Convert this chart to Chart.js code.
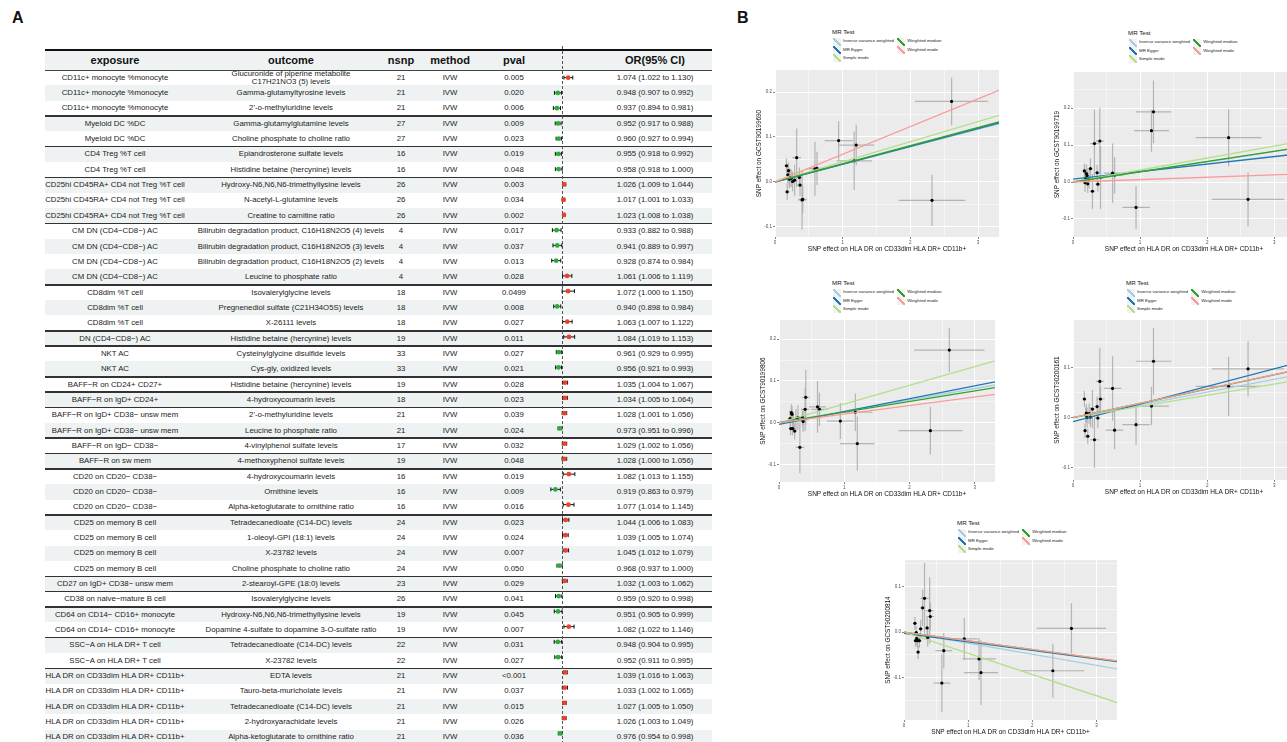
<!DOCTYPE html>
<html><head><meta charset="utf-8">
<script src="https://cdn.jsdelivr.net/npm/chart.js"></script>
<style>
html,body{margin:0;padding:0;}
body{width:1287px;height:742px;overflow:hidden;position:relative;background:#fff;font-family:"Liberation Sans",Arial,Helvetica,sans-serif;color:#222;}
.a{position:absolute;}
.cell{position:absolute;display:flex;align-items:center;justify-content:center;text-align:center;white-space:nowrap;font-size:7.8px;line-height:1;color:#222;}
.hd{font-weight:bold;font-size:11px;color:#111;}
canvas{position:absolute;}
.lt{position:absolute;font-size:6.2px;color:#111;white-space:nowrap;line-height:1;}
.li{position:absolute;font-size:4.4px;color:#222;white-space:nowrap;line-height:1;}
.key{position:absolute;width:8px;height:8px;}
.plab{position:absolute;font-weight:bold;font-size:16px;color:#111;line-height:1;}
</style></head><body>
<div class="plab" style="left:12px;top:10px;">A</div>
<div class="plab" style="left:737px;top:10px;">B</div>
<script>
// ---------------- Panel A data ----------------
const exposure = [
 "CD11c+ monocyte %monocyte","CD11c+ monocyte %monocyte","CD11c+ monocyte %monocyte",
 "Myeloid DC %DC","Myeloid DC %DC",
 "CD4 Treg %T cell","CD4 Treg %T cell",
 "CD25hi CD45RA+ CD4 not Treg %T cell","CD25hi CD45RA+ CD4 not Treg %T cell","CD25hi CD45RA+ CD4 not Treg %T cell",
 "CM DN (CD4−CD8−) AC","CM DN (CD4−CD8−) AC","CM DN (CD4−CD8−) AC","CM DN (CD4−CD8−) AC",
 "CD8dim %T cell","CD8dim %T cell","CD8dim %T cell",
 "DN (CD4−CD8−) AC",
 "NKT AC","NKT AC",
 "BAFF−R on CD24+ CD27+",
 "BAFF−R on IgD+ CD24+",
 "BAFF−R on IgD+ CD38− unsw mem","BAFF−R on IgD+ CD38− unsw mem",
 "BAFF−R on IgD− CD38−",
 "BAFF−R on sw mem",
 "CD20 on CD20− CD38−","CD20 on CD20− CD38−","CD20 on CD20− CD38−",
 "CD25 on memory B cell","CD25 on memory B cell","CD25 on memory B cell","CD25 on memory B cell",
 "CD27 on IgD+ CD38− unsw mem",
 "CD38 on naive−mature B cell",
 "CD64 on CD14− CD16+ monocyte","CD64 on CD14− CD16+ monocyte",
 "SSC−A on HLA DR+ T cell","SSC−A on HLA DR+ T cell",
 "HLA DR on CD33dim HLA DR+ CD11b+","HLA DR on CD33dim HLA DR+ CD11b+","HLA DR on CD33dim HLA DR+ CD11b+","HLA DR on CD33dim HLA DR+ CD11b+","HLA DR on CD33dim HLA DR+ CD11b+"
];
const outcome = [
 "Glucuronide of piperine metabolite\nC17H21NO3 (5) levels","Gamma-glutamyltyrosine levels","2'-o-methyluridine levels",
 "Gamma-glutamylglutamine levels","Choline phosphate to choline ratio",
 "Epiandrosterone sulfate levels","Histidine betaine (hercynine) levels",
 "Hydroxy-N6,N6,N6-trimethyllysine levels","N-acetyl-L-glutamine levels","Creatine to carnitine ratio",
 "Bilirubin degradation product, C16H18N2O5 (4) levels","Bilirubin degradation product, C16H18N2O5 (3) levels","Bilirubin degradation product, C16H18N2O5 (2) levels","Leucine to phosphate ratio",
 "Isovalerylglycine levels","Pregnenediol sulfate (C21H34O5S) levels","X-26111 levels",
 "Histidine betaine (hercynine) levels",
 "Cysteinylglycine disulfide levels","Cys-gly, oxidized levels",
 "Histidine betaine (hercynine) levels",
 "4-hydroxycoumarin levels",
 "2'-o-methyluridine levels","Leucine to phosphate ratio",
 "4-vinylphenol sulfate levels",
 "4-methoxyphenol sulfate levels",
 "4-hydroxycoumarin levels","Ornithine levels","Alpha-ketoglutarate to ornithine ratio",
 "Tetradecanedioate (C14-DC) levels","1-oleoyl-GPI (18:1) levels","X-23782 levels","Choline phosphate to choline ratio",
 "2-stearoyl-GPE (18:0) levels",
 "Isovalerylglycine levels",
 "Hydroxy-N6,N6,N6-trimethyllysine levels","Dopamine 4-sulfate to dopamine 3-O-sulfate ratio",
 "Tetradecanedioate (C14-DC) levels","X-23782 levels",
 "EDTA levels","Tauro-beta-muricholate levels","Tetradecanedioate (C14-DC) levels","2-hydroxyarachidate levels","Alpha-ketoglutarate to ornithine ratio"
];
const nsnp = [21,21,21,27,27,16,16,26,26,26,4,4,4,4,18,18,18,19,33,33,19,18,21,21,17,19,16,16,16,24,24,24,24,23,26,19,19,22,22,21,21,21,21,21];
const methodName = "IVW";
const pval = ["0.005","0.020","0.006","0.009","0.023","0.019","0.048","0.003","0.034","0.002","0.017","0.037","0.013","0.028","0.0499","0.008","0.027","0.011","0.027","0.021","0.028","0.023","0.039","0.024","0.032","0.048","0.019","0.009","0.016","0.023","0.024","0.007","0.050","0.029","0.041","0.045","0.007","0.031","0.027","<0.001","0.037","0.015","0.026","0.036"];
const orVal = [1.074,0.948,0.937,0.952,0.960,0.955,0.958,1.026,1.017,1.023,0.933,0.941,0.928,1.061,1.072,0.940,1.063,1.084,0.961,0.956,1.035,1.034,1.028,0.973,1.029,1.028,1.082,0.919,1.077,1.044,1.039,1.045,0.968,1.032,0.959,0.951,1.082,0.948,0.952,1.039,1.033,1.027,1.026,0.976];
const orLo  = [1.022,0.907,0.894,0.917,0.927,0.918,0.918,1.009,1.001,1.008,0.882,0.889,0.874,1.006,1.000,0.898,1.007,1.019,0.929,0.921,1.004,1.005,1.001,0.951,1.002,1.000,1.013,0.863,1.014,1.006,1.005,1.012,0.937,1.003,0.920,0.905,1.022,0.904,0.911,1.016,1.002,1.005,1.003,0.954];
const orHi  = [1.130,0.992,0.981,0.988,0.994,0.992,1.000,1.044,1.033,1.038,0.988,0.997,0.984,1.119,1.150,0.984,1.122,1.153,0.995,0.993,1.067,1.064,1.056,0.996,1.056,1.056,1.155,0.979,1.145,1.083,1.074,1.079,1.000,1.062,0.998,0.999,1.146,0.995,0.995,1.063,1.065,1.050,1.049,0.998];
const headerLabels = ["exposure","outcome","nsnp","method","pval","OR(95% CI)"];

// ---------------- Panel B data ----------------
const mrMethods = ["Inverse variance weighted","MR Egger","Simple mode","Weighted median","Weighted mode"];
const exposureLabel = "SNP effect on HLA DR on CD33dim HLA DR+ CD11b+";
const outcomeIds = ["GCST90199690","GCST90199719","GCST90199806","GCST90200161","GCST90200814"];
const snpBetaX = [0.17,0.18,0.19,0.20,0.21,0.22,0.24,0.26,0.29,0.32,0.36,0.37,0.40,0.41,0.59,0.62,0.94,1.17,1.20,2.32,2.61];
const snpSeX   = [0.03,0.03,0.03,0.03,0.03,0.03,0.035,0.035,0.04,0.065,0.04,0.04,0.06,0.06,0.13,0.13,0.205,0.26,0.265,0.49,0.54];
const betaY1 = [0.036,-0.022,0.016,0.025,0.006,0.010,0.008,0.001,0.004,0.054,0.010,-0.007,-0.040,-0.039,0.029,0.030,0.092,0.047,0.082,-0.041,0.179];
const seY1   = [0.016,0.018,0.02,0.018,0.02,0.02,0.02,0.022,0.035,0.065,0.022,0.025,0.066,0.03,0.06,0.037,0.043,0.065,0.045,0.057,0.053];
const betaY2 = [0.030,-0.002,0.010,0.023,0.017,-0.005,0.008,0.036,-0.025,0.104,0.025,-0.006,0.111,0.012,0.024,0.018,-0.069,0.139,0.190,0.120,-0.047];
const seY2   = [0.02,0.025,0.02,0.025,0.02,0.025,0.025,0.028,0.048,0.092,0.022,0.02,0.09,0.085,0.08,0.05,0.058,0.057,0.085,0.077,0.073];
const betaY3 = [0.010,-0.014,0.024,0.020,-0.014,0.005,-0.020,0.008,0.012,-0.059,0.013,0.003,0.032,0.061,0.038,0.032,0.004,0.025,-0.050,-0.019,0.174];
const seY3   = [0.02,0.016,0.02,0.02,0.016,0.02,0.02,0.025,0.03,0.062,0.02,0.025,0.052,0.066,0.062,0.04,0.043,0.045,0.065,0.057,0.053];
const betaY4 = [0.037,-0.026,0.005,0.009,0.000,-0.037,0.008,0.001,0.017,-0.044,0.022,-0.001,0.072,0.037,0.058,-0.025,-0.014,0.023,0.112,0.062,0.097];
const seY4   = [0.016,0.015,0.015,0.018,0.02,0.015,0.02,0.02,0.038,0.056,0.02,0.02,0.067,0.025,0.064,0.038,0.04,0.038,0.066,0.059,0.055];
const betaY5 = [0.019,-0.019,-0.001,-0.014,-0.019,-0.044,-0.019,0.007,0.053,0.074,0.009,-0.012,0.047,0.034,-0.112,-0.041,-0.015,-0.059,-0.089,-0.085,0.008];
const seY5   = [0.014,0.014,0.014,0.015,0.015,0.015,0.015,0.02,0.04,0.078,0.025,0.02,0.073,0.03,0.063,0.039,0.046,0.046,0.071,0.059,0.055];
const slope1 = [0.039,0.0398,0.0448,0.0403,0.0616];   const icpt1 = [0,-0.0006,0,0,0];
const slope2 = [0.0275,0.0203,0.0325,0.0277,0.0065];  const icpt2 = [0,0.008,0,0,0];
const slope3 = [0.0273,0.0308,0.0447,0.0254,0.0205];  const icpt3 = [0,-0.004,0,0,0];
const slope4 = [0.0254,0.035,0.0222,0.0284,0.0285];   const icpt4 = [0,-0.008,0,0,0];
const slope5 = [-0.0244,-0.0187,-0.0466,-0.0192,-0.0191]; const icpt5 = [0,-0.003,0,0,0];

// ---------------- styles / layout ----------------
const methodColors = ["#a6cee3","#1f78b4","#b2df8a","#33a02c","#fb9a99"];
const FONT = "'Liberation Sans', Arial, Helvetica, sans-serif";
Chart.defaults.font.family = FONT;
const body = document.body;
function el(tag, cls, style, html){const d=document.createElement(tag); if(cls) d.className=cls; if(style) d.style.cssText=style; if(html!==undefined) d.innerHTML=html; body.appendChild(d); return d;}

// ---------- Table ----------
const TL=45, TR=712, T0=70, RH=675/44;
const colCenters=[115,291,401,450,514,655];
el('div','a',`left:${TL}px;top:50px;width:${TR-TL}px;height:20px;background:#eef2f2;`);
el('div','a',`left:${TL}px;top:49px;width:${TR-TL}px;height:2px;background:#111;`);
headerLabels.forEach((h,k)=>{ el('div','cell hd',`left:${colCenters[k]-80}px;width:160px;top:51px;height:19px;`,h); });
exposure.forEach((e,i)=>{
  const top = T0 + i*RH;
  if(i%2===1) el('div','a',`left:${TL}px;top:${top}px;width:${TR-TL}px;height:${RH}px;background:#eef2f2;`);
});
el('div','a',`left:${TL}px;top:69.5px;width:${TR-TL}px;height:1px;background:#444;`);
exposure.forEach((e,i)=>{
  const top = T0 + i*RH;
  const vals=[e, outcome[i].replace("\n","<br>"), String(nsnp[i]), methodName, pval[i],
    `${orVal[i].toFixed(3)} (${orLo[i].toFixed(3)} to ${orHi[i].toFixed(3)})`];
  vals.forEach((v,k)=>{
    const w = k===1?260:180;
    el('div','cell',`left:${colCenters[k]-w/2}px;width:${w}px;top:${top}px;height:${RH}px;`,v);
  });
  if(i<exposure.length-1 && exposure[i+1]!==e){
    el('div','a',`left:${TL}px;top:${T0+(i+1)*RH-0.75}px;width:${TR-TL}px;height:1.5px;background:#333;`);
  }
});

// ---------- Forest column ----------
const fc = el('canvas','',`left:540px;top:45px;`); fc.width=45; fc.height=700;
const forestPlugin = {
  id:'forest',
  beforeDatasetsDraw(chart){
    const {ctx, scales:{x,y}} = chart;
    ctx.save();
    const x1 = Math.round(x.getPixelForValue(1))+0.5;
    ctx.strokeStyle='#555'; ctx.lineWidth=1; ctx.setLineDash([3,2]);
    ctx.beginPath(); ctx.moveTo(x1,1); ctx.lineTo(x1,chart.height); ctx.stroke();
    ctx.setLineDash([]);
    ctx.strokeStyle='#111'; ctx.lineWidth=1;
    orVal.forEach((v,i)=>{
      const yy = y.getPixelForValue(i);
      const a = x.getPixelForValue(orLo[i]), b = x.getPixelForValue(orHi[i]);
      ctx.beginPath();
      ctx.moveTo(a,yy); ctx.lineTo(b,yy);
      ctx.moveTo(a,yy-2); ctx.lineTo(a,yy+2);
      ctx.moveTo(b,yy-2); ctx.lineTo(b,yy+2);
      ctx.stroke();
    });
    ctx.restore();
  }
};
new Chart(fc,{
  type:'scatter',
  data:{datasets:[{data:orVal.map((v,i)=>({x:v,y:i})),
    pointRadius:2.4, pointBorderWidth:0,
    pointBackgroundColor:orVal.map(v=>v>1?'#e8432e':'#2eaa3c')}]},
  options:{responsive:false,animation:false,devicePixelRatio:1,
    layout:{padding:{top:25,left:0,right:0,bottom:0}},
    plugins:{legend:{display:false},tooltip:{enabled:false}},
    scales:{x:{type:'linear',min:0.78,max:1.23,display:false},
            y:{type:'linear',min:-0.5,max:43.5,reverse:true,display:false}}},
  plugins:[forestPlugin]
});

// ---------- MR scatter panels ----------
const panelLayout = [
 {L:775,T:70,R:999,B:237,xmax:3.31,ymin:-0.1225,ymax:0.249,leg:[832,32]},
 {L:1073,T:72,R:1295,B:237,xmax:3.31,ymin:-0.149,ymax:0.298,leg:[1128,33]},
 {L:779,T:320,R:995,B:482,xmax:3.31,ymin:-0.142,ymax:0.246,leg:[832,283]},
 {L:1073,T:320,R:1295,B:480,xmax:3.31,ymin:-0.124,ymax:0.194,leg:[1126,283]},
 {L:904,T:560,R:1117,B:720,xmax:3.32,ymin:-0.193,ymax:0.158,leg:[957,523]}
];
const panelData = [
 {y:betaY1,se:seY1,b:slope1,a:icpt1},
 {y:betaY2,se:seY2,b:slope2,a:icpt2},
 {y:betaY3,se:seY3,b:slope3,a:icpt3},
 {y:betaY4,se:seY4,b:slope4,a:icpt4},
 {y:betaY5,se:seY5,b:slope5,a:icpt5}
];
const isMajor = (v,step)=>Math.abs(v/step-Math.round(v/step))<1e-6;

function legendHTML(lx,ly){
  el('div','lt',`left:${lx}px;top:${ly-3.5}px;`,'MR Test');
  mrMethods.forEach((m,k)=>{
    const col = k<3?0:1, row = k<3?k:k-3;
    const kx = lx+0.5+col*64.3, ky = ly+9.6+row*8.3;
    const c = methodColors[k];
    el('div','key',`left:${kx}px;top:${ky-4}px;background:linear-gradient(to top right,#f2f2f2 calc(50% - 0.9px),${c} calc(50% - 0.9px),${c} calc(50% + 0.9px),#f2f2f2 calc(50% + 0.9px));`);
    el('div','li',`left:${kx+10.5}px;top:${ky-2.2}px;`,m);
  });
}

const bgPlugin = {
  id:'panelBg',
  beforeDraw(chart){
    const {ctx, chartArea:ca} = chart;
    ctx.save(); ctx.fillStyle='#ebebeb';
    ctx.fillRect(ca.left,ca.top,ca.right-ca.left,ca.bottom-ca.top); ctx.restore();
  }
};
const errPlugin = {
  id:'errBars',
  beforeDatasetsDraw(chart,args,opts){
    const {ctx, chartArea:ca, scales:{x,y}} = chart;
    const d = opts.d;
    ctx.save();
    ctx.beginPath(); ctx.rect(ca.left,ca.top,ca.right-ca.left,ca.bottom-ca.top); ctx.clip();
    ctx.strokeStyle='rgba(170,170,170,0.85)'; ctx.lineWidth=1.2;
    snpBetaX.forEach((bx,i)=>{
      const by=d.y[i];
      ctx.beginPath();
      ctx.moveTo(x.getPixelForValue(bx-snpSeX[i]),y.getPixelForValue(by));
      ctx.lineTo(x.getPixelForValue(bx+snpSeX[i]),y.getPixelForValue(by));
      ctx.moveTo(x.getPixelForValue(bx),y.getPixelForValue(by-d.se[i]));
      ctx.lineTo(x.getPixelForValue(bx),y.getPixelForValue(by+d.se[i]));
      ctx.stroke();
    });
    ctx.restore();
  }
};

panelLayout.forEach((p,pi)=>{
  const d = panelData[pi];
  const W=20, H=16;
  const cv = el('canvas','',`left:${p.L-W}px;top:${p.T-4}px;`);
  cv.width = (p.R+6)-(p.L-W); cv.height = (p.B+H)-(p.T-4);
  const ds = [{
    label:'snps', data:snpBetaX.map((bx,i)=>({x:bx,y:d.y[i]})),
    pointRadius:1.6, pointBorderWidth:0, pointBackgroundColor:'#000', order:10
  }];
  mrMethods.forEach((m,k)=>{
    ds.push({label:m, data:[{x:0,y:d.a[k]},{x:p.xmax,y:d.a[k]+d.b[k]*p.xmax}],
      showLine:true, pointRadius:0, borderColor:methodColors[k], borderWidth:1.3, order:5-k});
  });
  const tickFont={size:4.5,family:FONT};
  new Chart(cv,{
    type:'scatter',
    data:{datasets:ds},
    options:{responsive:false,animation:false,devicePixelRatio:1,
      layout:{padding:{top:4,right:6,left:0,bottom:0}},
      plugins:{legend:{display:false},tooltip:{enabled:false},errBars:{d:d}},
      scales:{
        x:{type:'linear',min:0,max:p.xmax,
          afterFit(s){s.height=H;},
          border:{display:false},
          grid:{color:'#ffffff',lineWidth:c=>isMajor(c.tick.value,1)?1:0.5,
                tickLength:2,tickColor:c=>isMajor(c.tick.value,1)?'#333':'rgba(0,0,0,0)',tickWidth:0.6},
          ticks:{stepSize:0.5,includeBounds:false,autoSkip:false,maxRotation:0,minRotation:0,maxTicksLimit:30,
                 padding:1,color:'#4d4d4d',font:tickFont,
                 callback:v=>isMajor(v,1)?String(Math.round(v)):''},
          title:{display:true,text:exposureLabel,color:'#111',font:{size:6.5,family:FONT},padding:{top:0,bottom:0}}
        },
        y:{type:'linear',min:p.ymin,max:p.ymax,
          afterFit(s){s.width=W;},
          border:{display:false},
          grid:{color:'#ffffff',lineWidth:c=>isMajor(c.tick.value,0.1)?1:0.5,
                tickLength:2,tickColor:c=>isMajor(c.tick.value,0.1)?'#333':'rgba(0,0,0,0)',tickWidth:0.6},
          ticks:{stepSize:0.05,includeBounds:false,autoSkip:false,maxTicksLimit:30,
                 padding:1,color:'#4d4d4d',font:tickFont,
                 callback:v=>isMajor(v,0.1)?(Math.round(v*10)/10).toFixed(1):''},
          title:{display:true,text:'SNP effect on '+outcomeIds[pi],color:'#111',font:{size:6.4,family:FONT},padding:{top:0,bottom:0}}
        }
      }},
    plugins:[bgPlugin,errPlugin]
  });
  legendHTML(p.leg[0],p.leg[1]);
});
</script>
</body></html>
